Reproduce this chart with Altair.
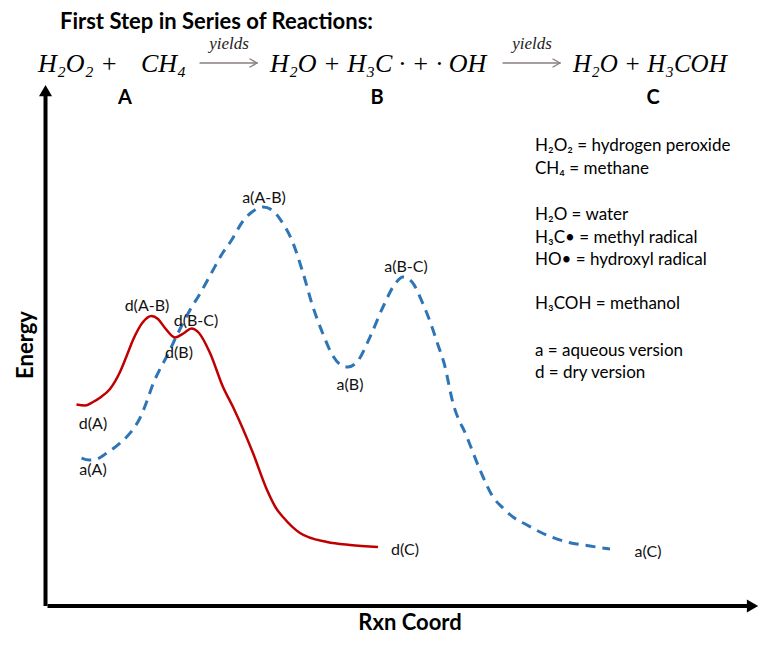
import altair as alt
import pandas as pd

# ---------------- data (arbitrary units) ----------------
# reaction coordinate (0 = origin of axes, ~100 = end of x axis); energy (0 = x axis, ~100 = top of y axis)
dry_coord = [4.08, 5.28, 6.41, 7.54, 8.80, 10.21, 11.20, 12.04, 13.45, 14.65, 15.56, 16.55, 17.96,
             19.23, 20.28, 21.34, 22.89, 24.72, 26.13, 28.94, 30.92, 32.18, 33.17, 35.56, 39.37,
             42.61, 46.55]
dry_energy = [38.66, 38.47, 39.15, 40.12, 41.67, 44.96, 48.26, 51.16, 54.65, 55.81, 55.23, 53.49, 51.65,
              52.52, 53.39, 52.52, 48.64, 42.05, 38.18, 29.26, 22.09, 18.60, 16.86, 13.76, 12.02,
              11.43, 11.05]

aq_coord = [4.79, 5.85, 6.97, 7.96, 9.08, 10.21, 11.20, 12.18, 13.03, 14.01, 14.86, 15.85, 16.83,
            18.38, 20.07, 21.62, 23.17, 24.58, 25.85, 27.54, 28.80, 30.35, 31.62, 32.75, 34.58,
            35.99, 37.39, 38.80, 40.21, 41.34, 42.32, 43.59, 45.42, 47.25, 48.94, 50.07, 51.34,
            52.89, 54.01, 55.00, 55.85, 57.11, 59.08, 60.92, 62.75, 64.15, 65.56, 67.54, 69.37,
            73.17, 76.41, 79.23]
aq_energy = [28.29, 27.91, 28.10, 28.88, 29.94, 31.20, 32.46, 34.11, 36.05, 39.34, 42.64, 45.54, 48.06,
             52.52, 56.98, 60.47, 64.34, 67.83, 70.35, 74.22, 75.97, 76.94, 76.36, 74.61, 69.96,
             64.15, 57.56, 52.33, 48.06, 46.32, 45.93, 46.90, 51.74, 57.56, 62.02, 63.37, 62.40,
             58.14, 54.26, 50.19, 46.71, 38.95, 32.36, 25.97, 20.74, 18.60, 16.86, 15.31, 13.95,
             12.02, 11.24, 10.66]

point_labels = ["d(A)", "a(A)", "d(A-B)", "d(B)", "d(B-C)", "a(A-B)", "a(B)", "a(B-C)", "d(C)", "a(C)"]
label_coord = [6.41, 6.41, 14.01, 18.52, 20.92, 30.49, 42.61, 50.49, 50.35, 84.58]
label_energy = [34.88, 25.97, 57.75, 48.64, 54.84, 78.68, 42.44, 65.31, 10.47, 10.08]

legend_lines = ["H₂O₂ = hydrogen peroxide", "CH₄ = methane", "H₂O = water", "H₃C• = methyl radical",
                "HO• = hydroxyl radical", "H₃COH = methanol", "a = aqueous version", "d = dry version"]

title_text = "First Step in Series of Reactions:"
eq_parts = ["H₂O₂ +", "CH₄", "H₂O + H₃C · + · OH", "H₂O + H₃COH"]
arrow_word = "yields"
species = ["A", "B", "C"]

# ---------------- layout ----------------
W, H = 759, 639
xs = alt.Scale(domain=[-5.5634, 101.338], nice=False, zero=False)
ys = alt.Scale(domain=[-8.333, 115.504], nice=False, zero=False)
FONT = "Lato"
RED = "#c00000"
BLUE = "#2e75b6"
ARROW = "#8a7f80"

dry = pd.DataFrame({"coord": dry_coord, "energy": dry_energy})
aq = pd.DataFrame({"coord": aq_coord, "energy": aq_energy})
lab = pd.DataFrame({"label": point_labels, "coord": label_coord, "energy": label_energy})

X = lambda: alt.X("coord:Q", scale=xs, axis=None)
Y = lambda: alt.Y("energy:Q", scale=ys, axis=None)

dry_line = alt.Chart(dry).mark_line(color=RED, strokeWidth=2.5, interpolate="monotone").encode(x=X(), y=Y())
aq_line = alt.Chart(aq).mark_line(color=BLUE, strokeWidth=3, strokeDash=[10, 7], strokeCap="butt",
                                  interpolate="monotone").encode(x=X(), y=Y())
labels = alt.Chart(lab).mark_text(font=FONT, fontSize=16, color="#111", align="center",
                                  baseline="middle").encode(x=X(), y=Y(), text="label:N")

# axes with arrowheads
axes_df = pd.DataFrame({"coord": [0, -0.28], "energy": [-0.39, -0.39], "coord2": [98.9, -0.28],
                        "energy2": [-0.39, 98.7]})
axes_rules = alt.Chart(axes_df).mark_rule(color="black", strokeWidth=4).encode(
    x=X(), y=Y(), x2="coord2:Q", y2="energy2:Q")
heads_df = pd.DataFrame({"coord": [-0.28, 99.3], "energy": [99.5, -0.39],
                         "shape": ["triangle-up", "triangle-right"]})
heads = alt.Chart(heads_df).mark_point(filled=True, color="black", opacity=1, size=170).encode(
    x=X(), y=Y(), shape=alt.Shape("shape:N", scale=None, legend=None))

one = pd.DataFrame({"a": [0]})

# texts in page layout
def txt(t, x, y, size, bold=False, align="left", font=FONT, italic=False, color="#000", angle=0):
    props = dict(text=t, font=font, fontSize=size, align=align, baseline="middle", color=color)
    if bold:
        props["fontWeight"] = "bold"
    if italic:
        props["fontStyle"] = "italic"
    if angle:
        props["angle"] = angle
    return alt.Chart(one).mark_text(**props).encode(x=alt.value(x - 8), y=alt.value(y - 8))

def seg(x1, y1, x2, y2, color=ARROW, width=1.4):
    return alt.Chart(one).mark_rule(color=color, strokeWidth=width, strokeCap="round").encode(
        x=alt.value(x1 - 8), y=alt.value(y1 - 8), x2=alt.value(x2 - 8), y2=alt.value(y2 - 8))

layers = [aq_line, dry_line, labels, axes_rules, heads]
layers.append(txt(title_text, 60, 22, 22, bold=True))
SERIF = "Liberation Serif"
layers.append(txt(eq_parts[0], 38, 64, 26, font=SERIF, italic=True))
layers.append(txt(eq_parts[1], 141, 64, 26, font=SERIF, italic=True))
layers.append(txt(eq_parts[2], 270, 64, 26, font=SERIF, italic=True))
layers.append(txt(eq_parts[3], 573, 64, 25, font=SERIF, italic=True))
for x0 in (200, 503):
    layers.append(txt(arrow_word, x0 + 29, 44, 17, font=SERIF, italic=True, align="center", color="#222"))
    layers.append(seg(x0, 63, x0 + 57, 63))
    layers.append(seg(x0 + 50, 59, x0 + 57, 63))
    layers.append(seg(x0 + 50, 67, x0 + 57, 63))
for s, cx in zip(species, (125, 377, 653)):
    layers.append(txt(s, cx, 98, 20, bold=True, align="center"))
for line, cy in zip(legend_lines, (146, 169, 215, 238, 260, 304, 351, 373)):
    layers.append(txt(line, 535, cy, 17))
layers.append(txt("Energy", 26, 345, 22, bold=True, align="center", angle=270))
layers.append(txt("Rxn Coord", 410, 623, 22, bold=True, align="center"))

chart = alt.layer(*layers).properties(
    width=W, height=H, padding=0, autosize=alt.AutoSizeParams(type="none")
).configure_view(stroke=None)

chart.save("out.html", embed_options={"renderer": "svg", "actions": False})
